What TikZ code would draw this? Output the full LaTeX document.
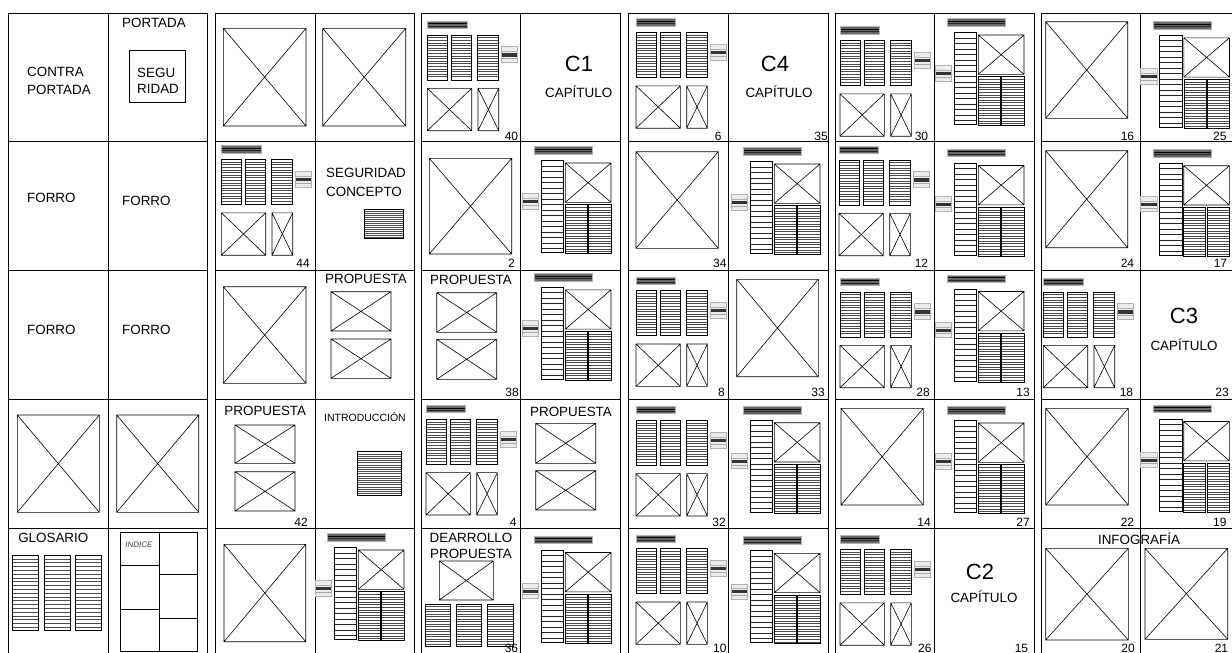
\documentclass[tikz,border=0pt]{standalone}
\usepackage{fontspec}
\setmainfont{Liberation Sans}
\tikzset{
  pgline/.style={draw=black, line width=0.9pt},
  xl/.style={draw=black, line width=0.6pt},
  hb/.style={draw=black, line width=0.6pt},
  hl/.style={draw=black!70, line width=0.45pt},
  hls/.style={draw=black!85, line width=0.5pt},
  lbl/.style={font=\fontsize{13.4}{17}\selectfont, inner sep=0pt},
  bigc/.style={font=\fontsize{22}{24}\selectfont, inner sep=0pt},
  num/.style={font=\fontsize{12}{12}\selectfont, inner sep=0pt, anchor=base east},
}
\newcommand\ximg[4]{\draw[xl] (#1,#2) rectangle (#3,#4) (#1,#2) -- (#3,#4) (#1,#4) -- (#3,#2);}
\newcommand\hatchbox[6]{%
  \fill[white] (#3,#4) rectangle (#5,#6);
  \pgfmathtruncatemacro\hn{((#6)-(#4))/(#2)-0.4}
  \foreach \k in {1,...,\hn}{\draw[#1] (#3,{#4+\k*#2}) -- (#5,{#4+\k*#2});}
  \draw[hb] (#3,#4) rectangle (#5,#6);}
\newcommand\tbar[4]{\fill[black!60] (#1,#2) rectangle (#3,#4);
  \draw[black, line width=1.1pt] (#1,{#2+0.4*((#4)-(#2))}) -- (#3,{#2+0.4*((#4)-(#2))});
  \draw[black!85, line width=0.8pt] (#1,{#2+0.72*((#4)-(#2))}) -- (#3,{#2+0.72*((#4)-(#2))});
  \draw[gray!60, line width=0.4pt] (#1,#2) rectangle (#3,#4);}
\newcommand\gbox[4]{\fill[gray!15] (#1,#2) rectangle (#3,#4);
  \fill[black!80] (#1,{#2+0.42*((#4)-(#2))}) rectangle (#3,{#2+0.62*((#4)-(#2))});
  \draw[gray!60, line width=0.5pt] (#1,{#2+0.3*((#4)-(#2))}) -- (#3,{#2+0.3*((#4)-(#2))});
  \draw[gray!70, line width=0.5pt] (#1,{#2+0.75*((#4)-(#2))}) -- (#3,{#2+0.75*((#4)-(#2))});
  \draw[gray!60, line width=0.5pt] (#1,#2) rectangle (#3,#4);}
\newcommand\pageA[4]{\begin{scope}[shift={({#1+(#3)},{#2+(#4)})}]
  \tbar{6.3}{8}{45.7}{15.3}
  \hatchbox{hl}{2.6}{6.3}{22}{26.3}{67}
  \hatchbox{hl}{2.6}{30.3}{22}{50.3}{67}
  \hatchbox{hl}{2.6}{56.7}{22}{77.3}{67}
  \gbox{80.7}{33.7}{96.3}{49.7}
  \ximg{6.3}{75.3}{50.7}{117.7}
  \ximg{57}{75.3}{77.7}{117.7}
\end{scope}}
\newcommand\pageB[4]{\begin{scope}[shift={({#1+(#3)},{#2+(#4)})}]
  \tbar{13.3}{5.3}{71.3}{13}
  \gbox{1}{52.7}{17.7}{68}
  \hatchbox{hls}{5.5}{20}{19.3}{42.7}{111.3}
  \ximg{44.3}{22}{90}{61.3}
  \hatchbox{hl}{2.6}{44.3}{63.7}{66.3}{112.3}
  \hatchbox{hl}{2.6}{67.7}{63.7}{90}{112.3}
\end{scope}}
\begin{document}
\begin{tikzpicture}[x=1pt,y=-1pt]
\useasboundingbox (0,0) rectangle (1232,653);
\fill[white] (0,0) rectangle (1232,653);
\clip (0,0) rectangle (1232,653);
% spreads
\foreach \L/\M/\R in {8.7/108.3/207.3, 215/315/414, 421/520.5/620.3, 628/728/828, 835/934/1034, 1041/1140/1245}{
  \draw[pgline] (\L,13) rectangle (\R,657);
  \draw[pgline] (\M,13) -- (\M,657);
  \foreach \y in {141.5,270,399,528} \draw[pgline] (\L,\y) -- (\R,\y);
}
% template pages A
\pageA{421}{13}{0}{0}
\pageA{628}{13}{1.7}{-2.5}
\pageA{835}{13}{-1.3}{5.5}
\pageA{215}{141.5}{0}{-4}
\pageA{835}{141.5}{-2.3}{-3.5}
\pageA{628}{270}{1.7}{-1.3}
\pageA{835}{270}{-1.3}{0}
\pageA{1041}{270}{-4}{0}
\pageA{421}{399}{-1.3}{-1.7}
\pageA{628}{399}{1.7}{-0.7}
\pageA{628}{528}{1.7}{-1.3}
\pageA{835}{528}{-1.3}{-0.5}
% template pages B
\pageB{934}{13}{0}{0}
\pageB{1140}{13}{-0.5}{2.8}
\pageB{520.5}{141.5}{0.5}{-0.5}
\pageB{728}{141.5}{2}{0.5}
\pageB{934}{141.5}{0}{2}
\pageB{1140}{141.5}{-0.6}{2.2}
\pageB{520.5}{270}{0.5}{-2.2}
\pageB{934}{270}{0}{-0.5}
\pageB{728}{399}{2}{1.7}
\pageB{934}{399}{0}{2}
\pageB{1140}{399}{-0.6}{0.5}
\pageB{315}{528}{-1}{0}
\pageB{520.5}{528}{0.5}{2.5}
\pageB{728}{528}{2}{3.3}
% full-page images
\ximg{223.3}{28.3}{306}{126}
\ximg{322.7}{28.3}{405.7}{126}
\ximg{1045.7}{21.7}{1127.7}{118.3}
\ximg{429.3}{158.3}{511.7}{254}
\ximg{636}{151.7}{718.3}{248.3}
\ximg{1045.7}{150.7}{1127.7}{247.7}
\ximg{223.3}{286.7}{306}{383.3}
\ximg{736.7}{279.3}{818.3}{376.7}
\ximg{17.3}{415}{99.3}{512.3}
\ximg{116.7}{415}{198.7}{512.3}
\ximg{841}{408.3}{923.3}{505}
\ximg{1045.7}{408.3}{1128.3}{505}
\ximg{224}{544.3}{305.7}{641.7}
\ximg{1045.7}{548.3}{1128.3}{640}
\ximg{1145}{548.3}{1227.7}{639.3}
% row 1 texts
\node[lbl, anchor=west, align=left, font=\fontsize{13.4}{18}\selectfont] (contra) at (27,81) {CONTRA\\PORTADA};
\node[lbl] (portada) at (154,23) {PORTADA};
\draw[hb] (129.3,50.7) rectangle (185.3,102.7);
\node[lbl, anchor=west, align=left, font=\fontsize{13.4}{15.5}\selectfont] (segu) at (137,81) {SEGU\\RIDAD};
\node[bigc] (c1) at (579,64) {C1};
\node[lbl] (cap1) at (578.7,92) {CAPÍTULO};
\node[bigc] (c4) at (775,64) {C4};
\node[lbl] (cap4) at (779,92) {CAPÍTULO};
% row 2 texts
\node[lbl, anchor=west] (forro1) at (27,198) {FORRO};
\node[lbl, anchor=west] (forro2) at (122,201) {FORRO};
\node[lbl, anchor=west, align=left, font=\fontsize{13.4}{18.5}\selectfont] (segcon) at (326,182.3) {SEGURIDAD\\CONCEPTO};
\hatchbox{hl}{2}{364}{209}{403}{238}
% row 3 texts
\node[lbl, anchor=west] (forro3) at (27,330) {FORRO};
\node[lbl, anchor=west] (forro4) at (122,330) {FORRO};
\node[lbl] (prop1) at (366,279) {PROPUESTA};
\ximg{331}{291.7}{391}{331}
\ximg{331}{339}{391}{378.3}
\node[lbl] (prop2) at (471,280) {PROPUESTA};
\ximg{436.7}{292.7}{496.7}{332.3}
\ximg{436.7}{339.3}{496.7}{379.3}
\node[bigc] (c3) at (1184,316) {C3};
\node[lbl] (cap3) at (1184,345) {CAPÍTULO};
% row 4 texts
\node[lbl] (prop3) at (265.3,411) {PROPUESTA};
\ximg{235}{425}{295}{463.3}
\ximg{235}{471.7}{295}{511}
\node[lbl, font=\fontsize{10.5}{12}\selectfont] (intro) at (365,416.7) {INTRODUCCIÓN};
\hatchbox{hl}{2.2}{357.7}{451.7}{401.7}{495}
\node[lbl] (prop4) at (571,411.7) {PROPUESTA};
\ximg{535.7}{423.3}{595.7}{463.3}
\ximg{535.7}{470.7}{595.7}{510}
% row 5 texts
\node[lbl] (glos) at (53.3,538) {GLOSARIO};
\hatchbox{hl}{3.8}{12.7}{555}{38.3}{630.7}
\hatchbox{hl}{3.8}{44}{555}{70}{630.7}
\hatchbox{hl}{3.8}{75}{555}{101.7}{630.7}
\draw[hb] (120,532.7) rectangle (197.7,651.7);
\draw[hb] (159,532.7) -- (159,651.7);
\draw[hb] (120,565) -- (159,565) (120,609) -- (159,609);
\draw[hb] (159,574.3) -- (197.7,574.3) (159,618.3) -- (197.7,618.3);
\node[lbl, font=\fontsize{8}{9}\selectfont\itshape, text=black!75] (indice) at (139,544.3) {INDICE};
\node[lbl, align=center, font=\fontsize{13.4}{16.5}\selectfont] (desa) at (471,545.7) {DEARROLLO\\PROPUESTA};
\ximg{439.3}{561}{493.3}{600}
\hatchbox{hl}{2.5}{425}{604}{450.7}{646.7}
\hatchbox{hl}{2.5}{456}{604}{481.7}{646.7}
\hatchbox{hl}{2.5}{487.3}{604}{513.3}{646.7}
\node[bigc] (c2) at (980,572) {C2};
\node[lbl] (cap2) at (984,596.7) {CAPÍTULO};
\node[lbl] (info) at (1139,539) {INFOGRAFÍA};
% page numbers
\node[num] (n40) at (518.3,140.3) {40};
\node[num] (n6) at (721.7,140.3) {6};
\node[num] (n35) at (828,140.3) {35};
\node[num] (n30) at (928.3,140.3) {30};
\node[num] (n16) at (1134.3,140.3) {16};
\node[num] (n25) at (1226.7,140.3) {25};
\node[num] (n44) at (310,267.3) {44};
\node[num] (n2) at (515,267.3) {2};
\node[num] (n34) at (726.7,267.3) {34};
\node[num] (n12) at (928.3,267.3) {12};
\node[num] (n24) at (1134.3,267.3) {24};
\node[num] (n17) at (1227.3,267.3) {17};
\node[num] (n38) at (519,396.5) {38};
\node[num] (n8) at (725,396.5) {8};
\node[num] (n33) at (825,396.5) {33};
\node[num] (n28) at (930,396.5) {28};
\node[num] (n13) at (1030,396.5) {13};
\node[num] (n18) at (1133.3,396.5) {18};
\node[num] (n23) at (1229,396.5) {23};
\node[num] (n42) at (308,526.5) {42};
\node[num] (n4) at (516.7,526.5) {4};
\node[num] (n32) at (726,526.5) {32};
\node[num] (n14) at (931,526.5) {14};
\node[num] (n27) at (1030,526.5) {27};
\node[num] (n22) at (1134.3,526.5) {22};
\node[num] (n19) at (1226.7,526.5) {19};
\node[num] (n36) at (518.3,652) {36};
\node[num] (n10) at (726.7,652) {10};
\node[num] (n26) at (931.7,652) {26};
\node[num] (n15) at (1028.3,652) {15};
\node[num] (n20) at (1135,652) {20};
\node[num] (n21) at (1228.3,652) {21};
\end{tikzpicture}
\end{document}
